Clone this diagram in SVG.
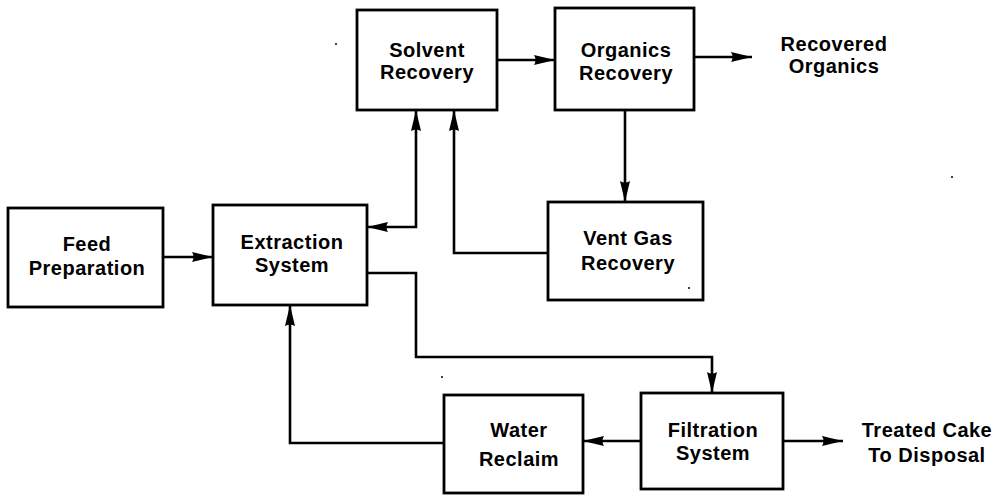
<svg xmlns="http://www.w3.org/2000/svg" width="1001" height="495" viewBox="0 0 1001 495">
  <style>
    .box { fill: #ffffff; stroke: #000000; stroke-width: 2.8; }
    .lbl { font-family: "Liberation Sans", Arial, sans-serif; font-weight: bold; font-size: 20px; letter-spacing: 0.5px; fill: #000000; text-anchor: middle; }
    .wire { fill: none; stroke: #000000; stroke-width: 2.6; stroke-linejoin: miter; }
    .arr { marker-end: url(#ah); }
    .arr2 { marker-start: url(#ah); marker-end: url(#ah); }
    .speck { fill: #000000; }
  </style>
  <defs>
    <marker id="ah" viewBox="0 -6 22 12" refX="21" refY="0" markerWidth="22" markerHeight="12" markerUnits="userSpaceOnUse" orient="auto-start-reverse">
      <path d="M0,-5 L21,0 L0,5 Q3,0 0,-5 Z" fill="#000000"/>
    </marker>
  </defs>

  <rect width="1001" height="495" fill="#ffffff"/>

  <!-- connectors -->
  <g id="connectors">
    <path class="wire arr" d="M163,257 H213"/>
    <path class="wire arr2" d="M367,227 H416 V110"/>
    <path class="wire arr" d="M548,253 H454 V110"/>
    <path class="wire arr" d="M497,60 H555"/>
    <path class="wire arr" d="M694,57 H752"/>
    <path class="wire arr" d="M625,110 V202"/>
    <path class="wire arr" d="M367,273 H416 V357 H712 V393"/>
    <path class="wire arr" d="M641,441 H583"/>
    <path class="wire arr" d="M444,443 H290 V305"/>
    <path class="wire arr" d="M783,441 H843"/>
  </g>

  <g id="feed-preparation">
    <rect class="box" x="8" y="208" width="155" height="99"/>
    <text class="lbl" x="87" y="251">Feed</text>
    <text class="lbl" x="87" y="275">Preparation</text>
  </g>

  <g id="extraction-system">
    <rect class="box" x="213" y="205" width="154" height="100"/>
    <text class="lbl" x="292" y="249">Extraction</text>
    <text class="lbl" x="292" y="272">System</text>
  </g>

  <g id="solvent-recovery">
    <rect class="box" x="357" y="10" width="140" height="100"/>
    <text class="lbl" x="427" y="57">Solvent</text>
    <text class="lbl" x="427" y="79">Recovery</text>
  </g>

  <g id="organics-recovery">
    <rect class="box" x="555" y="8" width="139" height="102"/>
    <text class="lbl" x="626" y="57">Organics</text>
    <text class="lbl" x="626" y="80">Recovery</text>
  </g>

  <g id="recovered-organics">
    <text class="lbl" x="834" y="51">Recovered</text>
    <text class="lbl" x="834" y="73">Organics</text>
  </g>

  <g id="vent-gas-recovery">
    <rect class="box" x="548" y="202" width="155" height="98"/>
    <text class="lbl" x="628" y="245">Vent Gas</text>
    <text class="lbl" x="628" y="270">Recovery</text>
  </g>

  <g id="water-reclaim">
    <rect class="box" x="444" y="395" width="139" height="98"/>
    <text class="lbl" x="519" y="437">Water</text>
    <text class="lbl" x="519" y="466">Reclaim</text>
  </g>

  <g id="filtration-system">
    <rect class="box" x="641" y="393" width="142" height="96"/>
    <text class="lbl" x="713" y="437">Filtration</text>
    <text class="lbl" x="713" y="460">System</text>
  </g>

  <g id="treated-cake">
    <text class="lbl" x="927" y="437">Treated Cake</text>
    <text class="lbl" x="927" y="462">To Disposal</text>
  </g>

  <!-- specks -->
  <circle class="speck" cx="336" cy="44" r="1"/>
  <circle class="speck" cx="952" cy="177" r="1"/>
  <circle class="speck" cx="442" cy="377" r="1"/>
  <circle class="speck" cx="689" cy="288" r="1"/>
</svg>
